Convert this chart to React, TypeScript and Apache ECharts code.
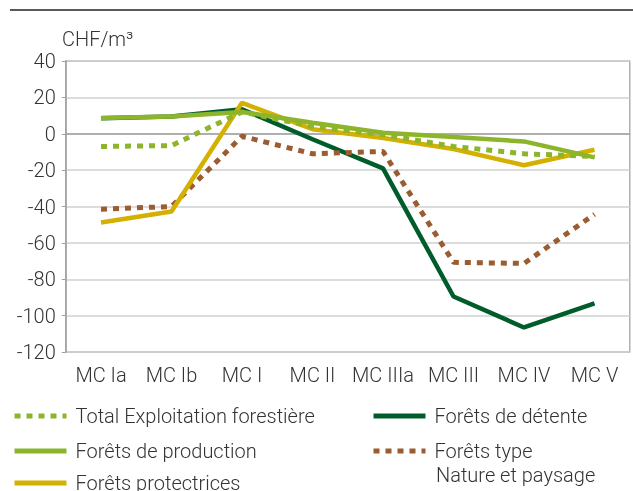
import React, { useEffect, useRef } from "react";
import * as echarts from "echarts";

const categories = ["MC Ia", "MC Ib", "MC I", "MC II", "MC IIIa", "MC III", "MC IV", "MC V"];
const totalExploitation = [-7, -6.5, 12, 4, -0.5, -7, -11, -12.5];
const foretsProduction = [8.6, 9.5, 12, 6, 0.5, -1.8, -4.2, -13];
const foretsDetente = [8.5, 9.5, 13.5, -3, -19, -89.5, -106.5, -93.3];
const foretsProtectrices = [-48.8, -42.8, 17, 2.5, -2.3, -8.4, -17.3, -8.8];
const foretsNature = [-41.5, -40, -1.4, -11, -9.7, -70.7, -71.3, -44.3];
const yTicks = { min: -120, max: 40, interval: 20 };

const FONT = "Roboto";
const TXT = "#333333";
const FS = 20;

export default function App() {
  const ref = useRef<HTMLDivElement>(null);
  useEffect(() => {
    if (!ref.current) return;
    const chart = echarts.init(ref.current, null, { renderer: "svg" });
    const dotted = [6, 6];
    const mkLegend = (name: string, left: number, top: number) => ({
      data: [name],
      left,
      top,
      padding: 0,
      itemWidth: 52,
      itemHeight: 20,
      selectedMode: false,
      itemStyle: { opacity: 0 },
      lineStyle: { width: 5, cap: "butt" },
      textStyle: { fontFamily: FONT, fontWeight: 300, fontSize: FS, color: TXT, padding: [0, 0, 0, 4] },
    });
    chart.setOption({
      animation: false,
      grid: { left: 65.75, right: 3.25, top: 61, bottom: 139, show: true, borderColor: "#b0b0b0", borderWidth: 1.5 },
      legend: [
        mkLegend("Total Exploitation forestière", 12, 406),
        mkLegend("Forêts de production", 12, 441),
        mkLegend("Forêts protectrices", 12, 473),
        mkLegend("Forêts de détente", 371, 406),
        mkLegend("Forêts type", 371, 441),
      ],
      graphic: [
        { type: "line", shape: { x1: 10, y1: 10, x2: 633, y2: 10 }, style: { stroke: "#222", lineWidth: 1.5 } },
        { type: "text", left: 62, top: 29, style: { text: "CHF/m³", fontFamily: FONT, fontWeight: 300, fontSize: FS, fill: TXT } },
        { type: "text", left: 436, top: 465, style: { text: "Nature et paysage", fontFamily: FONT, fontWeight: 300, fontSize: FS, fill: TXT } },
      ],
      xAxis: {
        type: "category",
        data: categories,
        boundaryGap: true,
        axisLine: { lineStyle: { color: "#a0a0a0", width: 1.5 } },
        axisTick: { alignWithLabel: true, length: 5, lineStyle: { color: "#a0a0a0" } },
        axisLabel: { interval: 0, hideOverlap: false, fontFamily: FONT, fontWeight: 300, fontSize: FS, color: TXT, margin: 13 },
      },
      yAxis: {
        type: "value",
        min: yTicks.min,
        max: yTicks.max,
        interval: yTicks.interval,
        axisLine: { show: true, lineStyle: { color: "#a0a0a0", width: 1.5 } },
        axisTick: { show: true, length: 4, lineStyle: { color: "#a0a0a0" } },
        axisLabel: { fontFamily: FONT, fontWeight: 300, fontSize: FS, color: TXT, margin: 10 },
        splitLine: { lineStyle: { color: "#d0d0d0", width: 1.5 } },
      },
      series: [
        { name: "Forêts de détente", type: "line", data: foretsDetente, symbol: "none", color: "#005c2a", lineStyle: { width: 4.5, color: "#005c2a" } },
        { name: "Forêts type", type: "line", data: foretsNature, symbol: "none", color: "#9a5c30", lineStyle: { width: 5, color: "#9a5c30", type: dotted, cap: "butt" } },
        { name: "Forêts protectrices", type: "line", data: foretsProtectrices, symbol: "none", color: "#d4b000", lineStyle: { width: 4.5, color: "#d4b000" } },
        { name: "Forêts de production", type: "line", data: foretsProduction, symbol: "none", color: "#8cb52c", lineStyle: { width: 4.5, color: "#8cb52c" } },
        { name: "Total Exploitation forestière", type: "line", data: totalExploitation, symbol: "none", color: "#8cb52c", lineStyle: { width: 5, color: "#8cb52c", type: dotted, cap: "butt" } },
      ],
    });
    return () => chart.dispose();
  }, []);
  return <div ref={ref} style={{ position: "fixed", left: 0, top: 0, width: 633, height: 491 }} />;
}
